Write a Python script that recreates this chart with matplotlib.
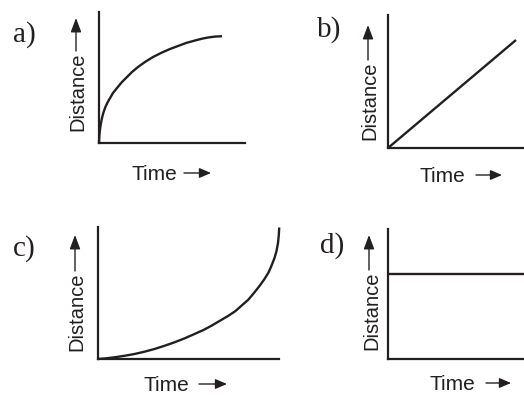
import numpy as np
import matplotlib.pyplot as plt
from matplotlib.patches import FancyArrowPatch

# curve values (time, distance), units ~ pixels from origin
time_a = [0, 0.2, 0.6, 1.2, 2, 3, 4.3, 6, 8, 10.5, 14, 18, 23, 28, 33, 39, 46,
          54, 63, 71, 79, 87, 96, 103, 109, 116, 123]
dist_a = [0, 5, 10, 15, 20, 25, 30, 35, 39.5, 44, 50, 55, 61, 66, 71, 76, 81,
          86, 90.5, 94, 97, 100, 102.5, 104.3, 105.5, 106.4, 106.8]

time_b = [0, 128]
dist_b = [0, 108]

time_c = [0, 8, 17, 27, 37, 47, 57, 67, 77, 87, 97, 106, 114, 122, 131, 138,
          144, 151, 157, 162, 167, 171, 174, 177, 179, 180.5, 181.3, 181.7]
dist_c = [0, 0.6, 1.7, 3.2, 5, 7.3, 10, 13.2, 16.7, 20.6, 25, 29, 33.3, 38,
          43.3, 48, 53.3, 59.5, 66.7, 73, 80, 86.5, 93.3, 101, 108, 116, 124, 131.5]

time_d = [0, 140]
dist_d = [85, 85]

panel_labels = ['a)', 'b)', 'c)', 'd)']
xlabel = 'Time'
ylabel = 'Distance'

W, H = 524, 396
INK = '#231f20'

fig = plt.figure(figsize=(W / 100, H / 100), dpi=100)


def fx(x):
    return x / W


def fy(y):
    return 1 - y / H


def arrow(p0, p1, hl, hw, lw):
    fig.add_artist(FancyArrowPatch((fx(p0[0]), fy(p0[1])), (fx(p1[0]), fy(p1[1])),
                                   transform=fig.transFigure,
                                   arrowstyle='-|>,head_length=%g,head_width=%g' % (hl, hw),
                                   mutation_scale=1, color=INK, lw=lw,
                                   shrinkA=0, shrinkB=0))


def make_panel(origin, top, right, t, d, label, label_xy, time_xy, time_arrow,
               dist_xy, dist_arrow):
    x0, y0 = origin
    ax = fig.add_axes([fx(x0), fy(y0), (right - x0) / W, (y0 - top) / H])
    ax.set_xlim(0, right - x0)
    ax.set_ylim(0, y0 - top)
    ax.plot(t, d, color=INK, lw=1.7, clip_on=False, solid_capstyle='butt',
            solid_joinstyle='round')
    for s in ['top', 'right']:
        ax.spines[s].set_visible(False)
    for s in ['left', 'bottom']:
        ax.spines[s].set_linewidth(1.6)
        ax.spines[s].set_color(INK)
    ax.set_xticks([])
    ax.set_yticks([])
    ax.patch.set_alpha(0)

    fig.text(fx(label_xy[0]), fy(label_xy[1]), label, family='Liberation Serif',
             fontsize=21, color=INK, ha='left', va='baseline')

    # x label: text plus a drawn arrow
    fig.text(fx(time_xy[0]), fy(time_xy[1]), xlabel, family='Liberation Sans',
             fontsize=15, color=INK, ha='left', va='baseline')
    xa0, xa1 = time_arrow
    ya = time_xy[1] - 7
    arrow((xa0, ya), (xa1, ya), 7, 3, 1.0)

    # y label: rotated text plus a drawn arrow
    fig.text(fx(dist_xy[0]), fy(dist_xy[1]), ylabel, family='Liberation Sans',
             fontsize=14.5, color=INK, rotation=90, rotation_mode='anchor',
             ha='left', va='baseline')
    xv, y_start, y_end = dist_arrow
    arrow((xv, y_start), (xv, y_end), 8.5, 3.2, 1.0)
    return ax


make_panel((99, 143), 12, 245, time_a, dist_a, panel_labels[0],
           (13, 42), (132, 180), (184, 211), (83, 131), (76, 51, 18))
make_panel((388, 148), 15, 528, time_b, dist_b, panel_labels[1],
           (317, 37), (419, 182), (476, 502), (375, 140), (368, 60, 25))
make_panel((97.5, 359), 227, 279, time_c, dist_c, panel_labels[2],
           (13, 256), (143, 391), (199, 227), (82, 351), (75, 271, 235))
make_panel((388, 359), 229, 528, time_d, dist_d, panel_labels[3],
           (320, 253), (429, 390), (486, 511), (377, 350), (369, 270, 235))

plt.savefig('out.png', dpi=100)
